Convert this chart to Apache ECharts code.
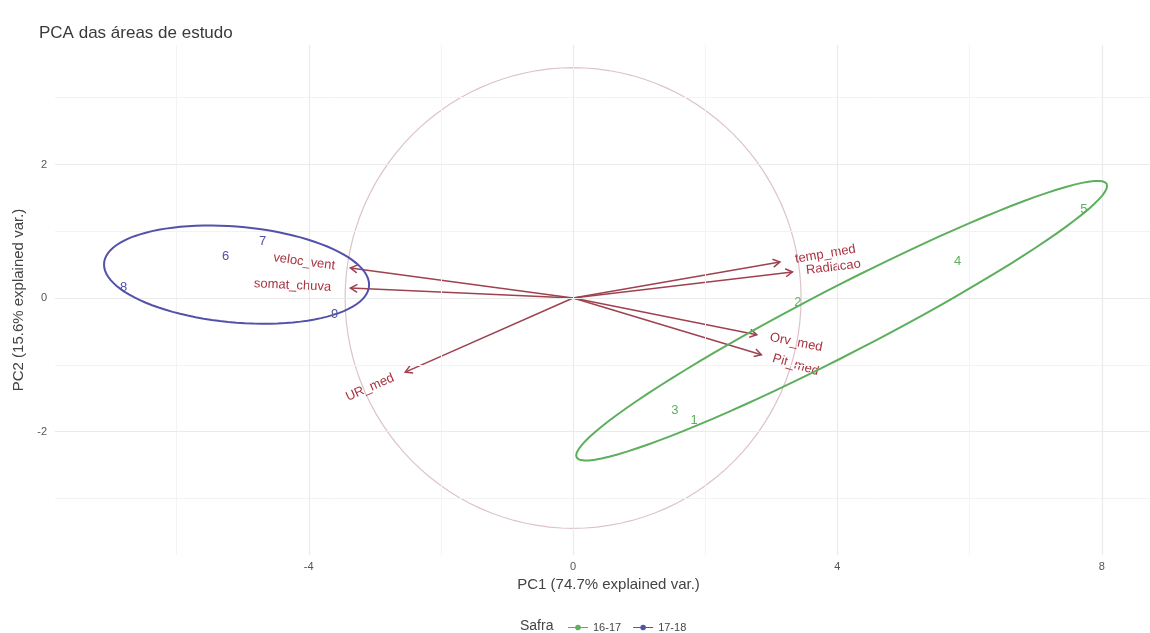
<!DOCTYPE html>
<html>
<head>
<meta charset="utf-8">
<script src="https://cdn.jsdelivr.net/npm/echarts@6/dist/echarts.min.js"></script>
<style>html,body{margin:0;padding:0;background:#fff}#chart{width:1150px;height:633px}</style>
</head>
<body>
<div id="chart"></div>
<script>
// ---- data ----
const xMajorTicks = [-4, 0, 4, 8];
const xMinorTicks = [-6, -2, 2, 6];
const yMajorTicks = [-2, 0, 2];
const yMinorTicks = [-3, -1, 1, 3];

const groupNames = ['16-17', '17-18'];

const obsLabelsA = ['1', '2', '3', '4', '5'];
const obsXA = [1.83, 3.40, 1.54, 5.82, 7.73];
const obsYA = [-1.83, -0.06, -1.69, 0.55, 1.33];

const obsLabelsB = ['6', '7', '8', '9'];
const obsXB = [-5.26, -4.70, -6.80, -3.61];
const obsYB = [0.63, 0.85, 0.16, -0.24];

const varNames = ['temp_med', 'Radiacao', 'Orv_med', 'Pit_med', 'UR_med', 'veloc_vent', 'somat_chuva'];
const varX = [3.13, 3.32, 2.78, 2.85, -2.54, -3.37, -3.37];
const varY = [0.54, 0.39, -0.55, -0.85, -1.11, 0.45, 0.15];

const circleRadius = 3.45;
const ellipseProb = 0.68;

// ---- styling ----
const colA = '#5dae5d';
const colB = '#5252aa';
const arrowCol = '#9e4250';
const varTextCol = '#a8323f';
const FONT = 'Liberation Sans, Arial, Helvetica, sans-serif';

const measureCtx = document.createElement('canvas').getContext('2d');
function textWidth(t, font) { measureCtx.font = font; return measureCtx.measureText(t).width; }

function ellipsePath(xs, ys) {
  const n = xs.length;
  const mx = xs.reduce((a, b) => a + b, 0) / n;
  const my = ys.reduce((a, b) => a + b, 0) / n;
  let sxx = 0, syy = 0, sxy = 0;
  for (let i = 0; i < n; i++) {
    sxx += (xs[i] - mx) ** 2; syy += (ys[i] - my) ** 2; sxy += (xs[i] - mx) * (ys[i] - my);
  }
  sxx /= (n - 1); syy /= (n - 1); sxy /= (n - 1);
  // cholesky (upper) of covariance
  const a = Math.sqrt(sxx), b = sxy / a, c = Math.sqrt(syy - b * b);
  const ed = Math.sqrt(-2 * Math.log(1 - ellipseProb));
  const pts = [];
  for (let k = 0; k <= 100; k++) {
    const t = 2 * Math.PI * k / 100;
    const u = Math.cos(t), v = Math.sin(t);
    pts.push([mx + ed * (u * a), my + ed * (u * b + v * c)]);
  }
  return pts;
}

function groupSeries(name, labels, xs, ys, color) {
  const ell = ellipsePath(xs, ys);
  return {
    type: 'custom', name: name, color: color, z: 5,
    data: labels.map((l, i) => [xs[i], ys[i], l]),
    renderItem: function (params, api) {
      const p = api.coord([api.value(0), api.value(1)]);
      const children = [{
        type: 'text', x: p[0], y: p[1],
        style: { text: labels[params.dataIndex], align: 'center', verticalAlign: 'middle', fill: color, font: '13px ' + FONT }
      }];
      if (params.dataIndex === 0) {
        children.push({
          type: 'polyline',
          shape: { points: ell.map(q => api.coord(q)) },
          style: { stroke: color, lineWidth: 2, fill: null }
        });
      }
      return { type: 'group', children: children };
    }
  };
}

const chart = echarts.init(document.getElementById('chart'), null, { renderer: 'canvas' });

const option = {
  animation: false,
  backgroundColor: '#ffffff',
  title: {
    text: 'PCA das áreas de estudo', left: 34, top: 20,
    textStyle: { fontFamily: FONT, fontSize: 17, fontWeight: 'normal', color: '#3a3a3a' }
  },
  grid: { left: 55, right: 0, top: 45, bottom: 78, containLabel: false },
  xAxis: {
    type: 'value', min: -7.84, max: 8.73,
    name: 'PC1 (74.7% explained var.)', nameLocation: 'middle', nameGap: 20,
    nameTextStyle: { fontFamily: FONT, fontSize: 15, color: '#444', padding: [0, 0, 0, 12] },
    axisLine: { show: false }, axisTick: { show: false, customValues: xMajorTicks },
    splitLine: { show: false },
    axisLabel: { customValues: xMajorTicks, fontFamily: FONT, fontSize: 11, color: '#555', margin: 6 }
  },
  yAxis: {
    type: 'value', min: -3.85, max: 3.79,
    name: 'PC2 (15.6% explained var.)', nameLocation: 'middle', nameGap: 23, nameRotate: 90,
    nameTextStyle: { fontFamily: FONT, fontSize: 15, color: '#444' },
    axisLine: { show: false }, axisTick: { show: false, customValues: yMajorTicks },
    splitLine: { show: false },
    axisLabel: { customValues: yMajorTicks, fontFamily: FONT, fontSize: 11, color: '#555', margin: 8 }
  },
  legend: {
    data: groupNames, left: 563, top: 617, itemWidth: 20, itemHeight: 10, itemGap: 12,
    icon: 'path://M0,4.4 H20 V5.6 H0 Z M10,2.2 A2.8,2.8 0 1,1 9.99,2.2 Z',
    textStyle: { fontFamily: FONT, fontSize: 11, color: '#444' },
    selectedMode: false
  },
  graphic: [{
    type: 'text', left: 520, top: 619,
    style: { text: 'Safra', font: '14px ' + FONT, fill: '#444' }
  }],
  series: [
    {
      type: 'scatter', name: 'gridMinor', data: [], silent: true, z: 0,
      markLine: {
        silent: true, symbol: ['none', 'none'], label: { show: false },
        lineStyle: { color: '#f3f3f3', width: 1, type: 'solid' },
        emphasis: { disabled: true },
        data: xMinorTicks.map(v => ({ xAxis: v })).concat(yMinorTicks.map(v => ({ yAxis: v })))
      }
    },
    {
      type: 'scatter', name: 'gridMajor', data: [], silent: true, z: 0,
      markLine: {
        silent: true, symbol: ['none', 'none'], label: { show: false },
        lineStyle: { color: '#ebebeb', width: 1.2, type: 'solid' },
        emphasis: { disabled: true },
        data: xMajorTicks.map(v => ({ xAxis: v })).concat(yMajorTicks.map(v => ({ yAxis: v })))
      }
    },
    {
      type: 'custom', name: 'circle', silent: true, z: 2,
      data: [[0, 0, circleRadius]],
      renderItem: function (params, api) {
        const r = api.value(2);
        const pts = [];
        for (let k = 0; k <= 120; k++) {
          const t = 2 * Math.PI * k / 120;
          pts.push(api.coord([r * Math.cos(t), r * Math.sin(t)]));
        }
        return { type: 'polyline', shape: { points: pts }, style: { stroke: '#dcc3c8', lineWidth: 1.2, fill: null } };
      }
    },
    {
      type: 'custom', name: 'loadings', silent: true, z: 4,
      data: varNames.map((n, i) => [varX[i], varY[i], n]),
      renderItem: function (params, api) {
        const i = params.dataIndex;
        const vx = api.value(0), vy = api.value(1);
        const o = api.coord([0, 0]);
        const p = api.coord([vx, vy]);
        const th = Math.atan2(p[1] - o[1], p[0] - o[0]);
        const L = 8, ha = Math.PI / 6;
        const h1 = [p[0] - L * Math.cos(th - ha), p[1] - L * Math.sin(th - ha)];
        const h2 = [p[0] - L * Math.cos(th + ha), p[1] - L * Math.sin(th + ha)];
        const font = '13px ' + FONT;
        const w = textWidth(varNames[i], font);
        const ang = Math.atan(vy / vx);
        const pos = vx >= 0;
        return {
          type: 'group', children: [
            { type: 'line', shape: { x1: o[0], y1: o[1], x2: p[0], y2: p[1] }, style: { stroke: arrowCol, lineWidth: 1.5 } },
            { type: 'polyline', shape: { points: [h1, p, h2] }, style: { stroke: arrowCol, lineWidth: 1.5, fill: null } },
            {
              type: 'text', x: p[0], y: p[1], rotation: ang,
              style: { text: varNames[i], x: pos ? 0.25 * w : -0.25 * w, y: 0, align: pos ? 'left' : 'right', verticalAlign: 'middle', fill: varTextCol, font: font }
            }
          ]
        };
      }
    },
    groupSeries(groupNames[0], obsLabelsA, obsXA, obsYA, colA),
    groupSeries(groupNames[1], obsLabelsB, obsXB, obsYB, colB)
  ]
};
chart.setOption(option);
</script>
</body>
</html>
